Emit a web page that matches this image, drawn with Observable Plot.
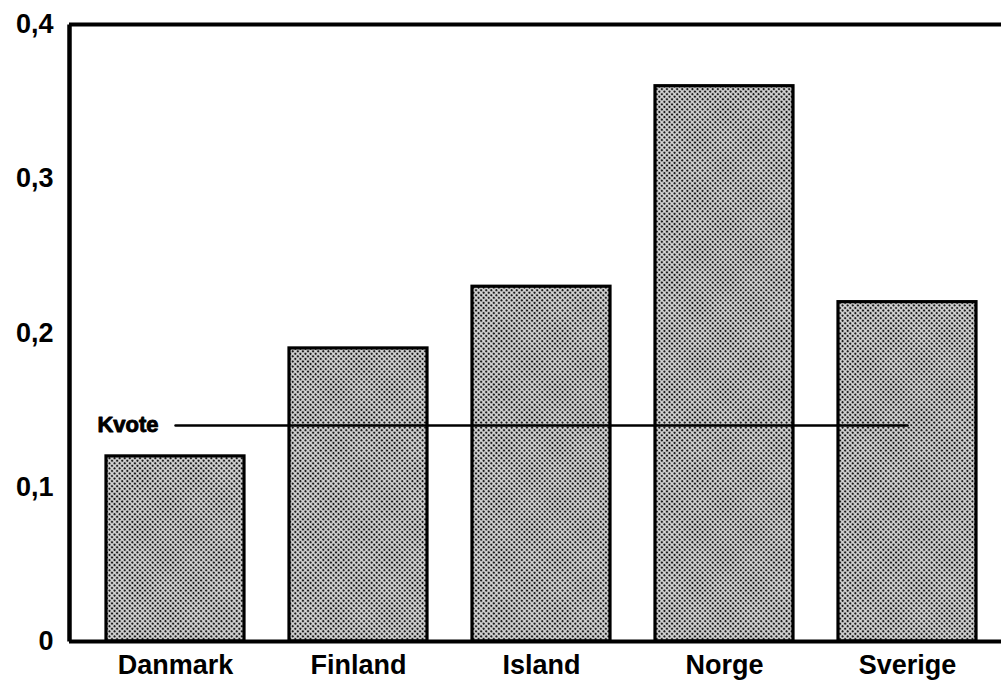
<!DOCTYPE html>
<html>
<head>
<meta charset="utf-8">
<script src="https://cdn.jsdelivr.net/npm/d3@7"></script>
<script src="https://cdn.jsdelivr.net/npm/@observablehq/plot@0.6"></script>
<style>
  html, body { margin: 0; padding: 0; background: #fff; overflow: hidden; }
  #chart svg { display: block; }
</style>
</head>
<body>
<div id="chart"></div>
<script>
const countries = ["Danmark", "Finland", "Island", "Norge", "Sverige"];
const values = [0.12, 0.19, 0.23, 0.36, 0.22];
const quota = 0.14;
const quotaLabel = "Kvote";
const yTicks = [0, 0.1, 0.2, 0.3, 0.4];

const bars = countries.map((c, i) => ({country: c, value: values[i]}));
const quotaLine = [
  {country: countries[0], value: quota},
  {country: countries[countries.length - 1], value: quota}
];

const chart = Plot.plot({
  width: 1001,
  height: 681,
  marginLeft: 69,
  marginRight: 0,
  marginTop: 24,
  marginBottom: 40,
  style: {fontFamily: "'Liberation Sans', Arial, Helvetica, sans-serif", fontWeight: "bold", color: "#000", background: "#fff"},
  x: {domain: countries, paddingInner: 0.246, paddingOuter: 0.169, align: 0.597, label: null, tickSize: 0, tickPadding: 13},
  y: {domain: [0, 0.4], ticks: yTicks, tickFormat: d => String(d).replace(".", ","), label: null, tickSize: 0, tickPadding: 16, line: true},
  marks: [
    Plot.barY(bars, {x: "country", y: "value", fill: "#b0b0b0", stroke: "#000", strokeWidth: 3.2}),
    Plot.lineY(quotaLine, {x: "country", y: "value", stroke: "#000", strokeWidth: 2.5}),
    Plot.text([quotaLine[0]], {x: "country", y: "value", text: () => quotaLabel, textAnchor: "end", dx: -17, dy: -1, fontSize: 22, fontWeight: "bold", fill: "#000", stroke: "#000", strokeWidth: 0.9}),
    Plot.ruleY([0, 0.4], {stroke: "#000", strokeWidth: 4})
  ]
});

// halftone pattern for bars
const ns = "http://www.w3.org/2000/svg";
const defs = document.createElementNS(ns, "defs");
const pat = document.createElementNS(ns, "pattern");
pat.setAttribute("id", "halftone");
pat.setAttribute("width", "3.6");
pat.setAttribute("height", "3.6");
pat.setAttribute("patternUnits", "userSpaceOnUse");
pat.setAttribute("patternTransform", "rotate(45)");
const bg = document.createElementNS(ns, "rect");
bg.setAttribute("width", "3.6"); bg.setAttribute("height", "3.6"); bg.setAttribute("fill", "#d6d6d6");
const dot = document.createElementNS(ns, "circle");
dot.setAttribute("cx", "1.8"); dot.setAttribute("cy", "1.8"); dot.setAttribute("r", "1.2"); dot.setAttribute("fill", "#1a1a1a");
pat.appendChild(bg); pat.appendChild(dot); defs.appendChild(pat);
chart.insertBefore(defs, chart.firstChild);
chart.querySelectorAll("g[aria-label='bar'] rect").forEach(r => r.setAttribute("fill", "url(#halftone)"));

chart.querySelectorAll("g[aria-label='x-axis tick label'], g[aria-label='y-axis tick label']").forEach(g => {
  g.setAttribute("font-size", "27");
});
chart.querySelectorAll("line[aria-label='frame']").forEach(l => {
  l.setAttribute("stroke-width", "4.5");
  l.setAttribute("stroke-linecap", "butt");
});
document.getElementById("chart").appendChild(chart);
</script>
</body>
</html>
